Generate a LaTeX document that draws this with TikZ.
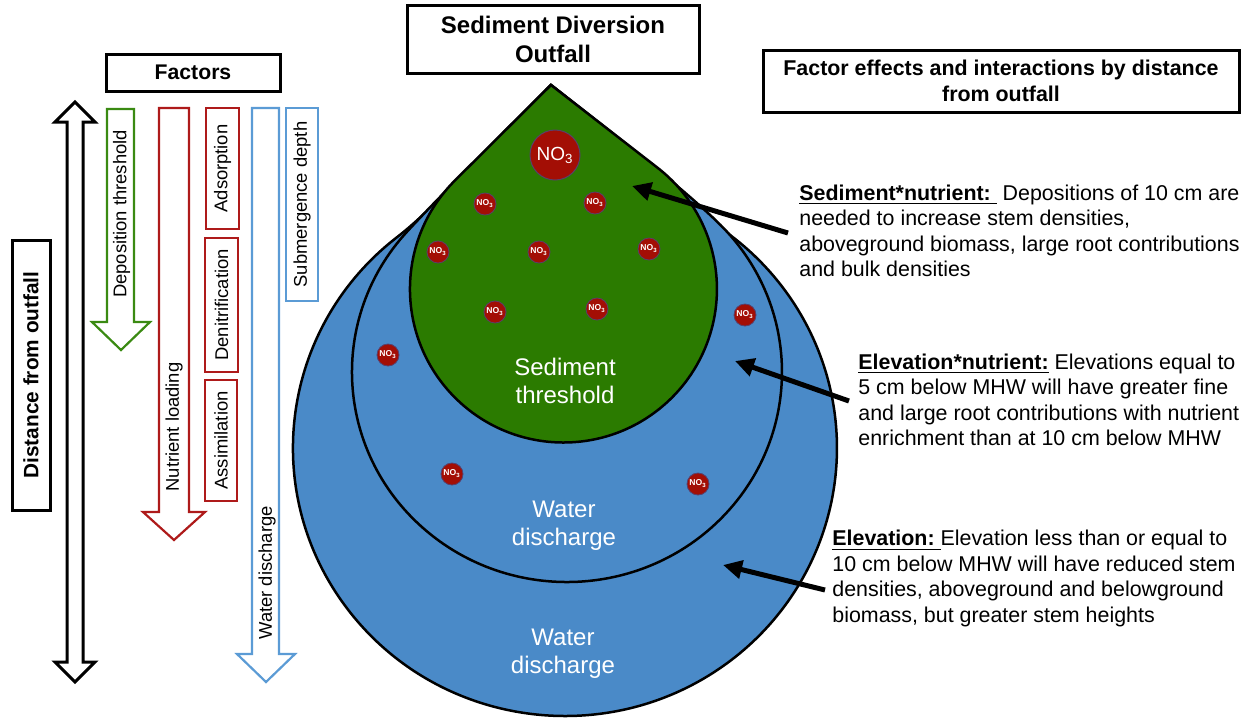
\documentclass[tikz,border=0pt]{standalone}
\usepackage{fontspec}
\setmainfont{Liberation Sans}
\usetikzlibrary{arrows.meta}
\definecolor{dropblue}{HTML}{4A8AC8}
\definecolor{dropgreen}{HTML}{2B7B00}
\definecolor{no3red}{HTML}{A30E05}
\definecolor{no3edge}{HTML}{5A3F6A}
\definecolor{facgreen}{HTML}{3A8A12}
\definecolor{facred}{HTML}{AE1A1A}
\definecolor{facblue}{HTML}{5B9BD5}
\begin{document}
\begin{tikzpicture}[x=0.5pt,y=-0.5pt,
  blackbox/.style={draw=black,line width=1.5pt,fill=white,align=center,inner sep=0pt},
  thinbox/.style={draw=#1,line width=0.8pt,fill=white,inner sep=0pt,rotate=90,font=\labfont},
  blockarrow/.style={draw=#1,line width=1.1pt,fill=white,line join=miter},
  droppath/.style={draw=black,line width=1.25pt,fill=#1},
  no3small/.style={circle,fill=no3red,draw=no3edge,line width=0.4pt,minimum size=11pt,inner sep=0pt,text=white,font=\fontsize{4.3}{5}\selectfont\bfseries},
  no3big/.style={circle,fill=no3red,draw=no3edge,line width=0.5pt,minimum size=25pt,inner sep=0pt,text=white,font=\fontsize{9.5}{11}\selectfont},
  droptext/.style={align=center,text=white,font=\fontsize{12}{14}\selectfont},
  bodytext/.style={align=left,inner sep=0pt,font=\fontsize{10.7}{12.7}\selectfont},
  labeltext/.style={rotate=90,inner sep=0pt,font=\labfont},
  callout/.style={line width=2.5pt,-{Triangle[length=9.5pt,width=9pt]}}
]
\newcommand{\labfont}{\fontsize{9.2}{11}\selectfont}
\useasboundingbox (0,0) rectangle (1249,719);

% ---------- left side: distance arrow ----------
\draw[blockarrow=black,line width=1.5pt] (75,102) -- (95,122) -- (83,122) -- (83,662) -- (95,662) -- (75,682) -- (55,662) -- (67,662) -- (67,122) -- (55,122) -- cycle;
\node[blackbox,rotate=90,minimum width=135pt,minimum height=19pt,font=\fontsize{10.4}{12}\selectfont\bfseries] (dist) at (31,375) {Distance from outfall};

% Factors box
\node[blackbox,minimum width=87pt,minimum height=18.5pt,font=\fontsize{10.6}{12.8}\selectfont\bfseries] (factors) at (193,72.5) {Factors};

% green arrow
\draw[blockarrow=facgreen] (107,109) -- (134,109) -- (134,322) -- (150,322) -- (121,350) -- (92,322) -- (107,322) -- cycle;
\node[labeltext] (dep) at (121.5,214) {Deposition threshold};

% red arrow
\draw[blockarrow=facred] (159,108) -- (189,108) -- (189,512) -- (205,512) -- (174,540) -- (143,512) -- (159,512) -- cycle;
\node[labeltext] (nut) at (174,427) {Nutrient loading};

% red boxes
\node[thinbox=facred,minimum width=60.5pt,minimum height=16.5pt] (ads) at (222.5,168.5) {Adsorption};
\node[thinbox=facred,minimum width=67pt,minimum height=16.5pt] (den) at (221.5,305) {Denitrification};
\node[thinbox=facred,minimum width=60.5pt,minimum height=16pt] (ass) at (221,440.5) {Assimilation};

% blue arrow
\draw[blockarrow=facblue] (252,108) -- (279,108) -- (279,654) -- (295,654) -- (266,682) -- (237,654) -- (252,654) -- cycle;
\node[labeltext] (wd) at (267,573) {Water discharge};

% blue box
\node[thinbox=facblue,minimum width=96.5pt,minimum height=16pt] (sub) at (302,204.5) {Submergence depth};

% ---------- drops ----------
\coordinate (apex) at (551,85);
\draw[droppath=dropblue] (apex) .. controls (501.4,134.4) and (437.1,206.3) .. (397.5,236.8)
   arc[start angle=232,end angle=-52,x radius=272,y radius=268]
   .. controls (692.9,206.3) and (606.3,127.9) .. cycle;
\draw[droppath=dropblue] (apex) .. controls (501.4,134.4) and (437.7,198.4) .. (407.2,231.5)
   arc[start angle=222,end angle=-42,x radius=215,y radius=210]
   .. controls (696.3,198.4) and (606.3,127.9) .. cycle;
\draw[droppath=dropgreen] (apex) -- (455.3,180.1)
   arc[start angle=225.2,end angle=-52.2,radius=153.5] -- cycle;

% NO3 particles
\node[no3big] (nbig) at (555,155) {NO\textsubscript{3}};
\node[no3small] (n1) at (485,204) {NO\textsubscript{3}};
\node[no3small] (n2) at (595,203) {NO\textsubscript{3}};
\node[no3small] (n3) at (438,252) {NO\textsubscript{3}};
\node[no3small] (n4) at (539,252) {NO\textsubscript{3}};
\node[no3small] (n5) at (649,249) {NO\textsubscript{3}};
\node[no3small] (n6) at (495,312) {NO\textsubscript{3}};
\node[no3small] (n7) at (597,309) {NO\textsubscript{3}};
\node[no3small] (n8) at (745,315) {NO\textsubscript{3}};
\node[no3small] (n9) at (388,355) {NO\textsubscript{3}};
\node[no3small] (n10) at (452,474) {NO\textsubscript{3}};
\node[no3small] (n11) at (698,484) {NO\textsubscript{3}};

% drop labels
\node[droptext] (sedthr) at (565,381) {Sediment\\threshold};
\node[droptext] (wat1) at (564,526) {Water\\discharge};
\node[droptext] (wat2) at (563,654) {Water\\discharge};

% ---------- top boxes ----------
\node[blackbox,minimum width=146pt,minimum height=34pt,font=\fontsize{12}{14.5}\selectfont\bfseries] (outfall) at (553,39) {Sediment Diversion\\Outfall};
\node[blackbox,minimum width=238pt,minimum height=31pt,font=\fontsize{10.7}{12.8}\selectfont\bfseries] (effects) at (1001,81) {Factor effects and interactions by distance\\from outfall};

% ---------- right texts ----------
\node[bodytext,anchor=west] (t1) at (799,231) {\underline{\textbf{Sediment*nutrient:}\ }\ Depositions of 10 cm are\\needed to increase stem densities,\\aboveground biomass, large root contributions\\and bulk densities};
\node[bodytext,anchor=west] (t2) at (858,400) {\underline{\textbf{Elevation*nutrient:}} Elevations equal to\\5 cm below MHW will have greater fine\\and large root contributions with nutrient\\enrichment than at 10 cm below MHW};
\node[bodytext,anchor=west] (t3) at (832,578.5) {\underline{\textbf{Elevation:}\ }Elevation less than or equal to\\10 cm below MHW will have reduced stem\\densities, aboveground and belowground\\biomass, but greater stem heights};

% ---------- callout arrows ----------
\coordinate (c1s) at (788,233);
\coordinate (c1e) at (632,186);
\coordinate (c2s) at (849,401);
\coordinate (c2e) at (735,361);
\coordinate (c3s) at (825,590);
\coordinate (c3e) at (723,565);
\draw[callout] (c1s) -- (c1e);
\draw[callout] (c2s) -- (c2e);
\draw[callout] (c3s) -- (c3e);
\end{tikzpicture}
\end{document}
